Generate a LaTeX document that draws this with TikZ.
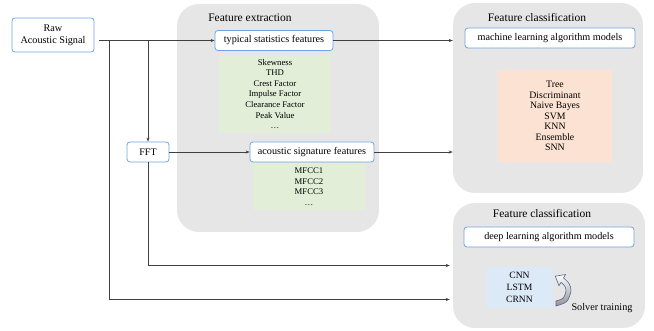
\documentclass[tikz,border=0pt]{standalone}
\usepackage{fontspec}
\setmainfont{Liberation Serif}
\usetikzlibrary{arrows.meta,calc}
\definecolor{panel}{HTML}{E6E6E6}
\definecolor{boxblue}{HTML}{6FA3E0}
\definecolor{greenf}{HTML}{E2EED8}
\definecolor{orangef}{HTML}{FBE2D2}
\definecolor{bluef}{HTML}{DCE9F6}
\definecolor{lineg}{HTML}{404040}
\definecolor{curvb}{HTML}{53699A}
\begin{document}
\begin{tikzpicture}[x=1pt,y=-1pt,
  panelbox/.style={fill=panel, rounded corners=22pt, draw=none, inner sep=0pt},
  bluebox/.style={draw=boxblue, line width=0.8pt, rounded corners=3pt, fill=white, font=\fontsize{10.2}{12}\selectfont, inner sep=0pt},
  listbox/.style={draw=none, inner sep=0pt, align=center, font=\fontsize{8.7}{10.6}\selectfont},
  titletext/.style={font=\fontsize{11.5}{13}\selectfont, inner sep=0pt},
  conn/.style={draw=lineg, line width=0.8pt},
  arr/.style={conn, -{Stealth[length=4pt,width=3pt]}}]
\useasboundingbox (0,0) rectangle (654,331);
% panels
\node[panelbox, minimum width=202pt, minimum height=228pt] (fe) at (278,118) {};
\node[panelbox, minimum width=190pt, minimum height=190pt] (fc1) at (548,98) {};
\node[panelbox, minimum width=192pt, minimum height=125pt] (fc2) at (549,265.5) {};
% titles
\node[titletext] (fet) at (250,18) {Feature extraction};
\node[titletext] (fc1t) at (537,18) {Feature classification};
\node[titletext] (fc2t) at (542,214) {Feature classification};
% list boxes
\node[listbox, fill=greenf, minimum width=112pt, minimum height=78pt] (g1) at (275,94)
  {Skewness\\THD\\Crest Factor\\Impulse Factor\\Clearance Factor\\Peak Value\\\dots};
\node[listbox, fill=greenf, minimum width=112pt, minimum height=47pt] (g2) at (309,186.5)
  {MFCC1\\MFCC2\\MFCC3\\\dots};
\node[listbox, font=\fontsize{9.8}{10.5}\selectfont, fill=orangef, minimum width=114pt, minimum height=92pt] (o1) at (555,116)
  {Tree\\Discriminant\\Naive Bayes\\SVM\\KNN\\Ensemble\\SNN};
\node[listbox, font=\fontsize{9.6}{11.7}\selectfont, fill=bluef, minimum width=67pt, minimum height=41pt] (b1) at (519.5,287.5)
  {CNN\\LSTM\\CRNN};
% blue boxes
\node[bluebox, align=center, minimum width=82pt, minimum height=34pt] (raw) at (53,35) {Raw\\Acoustic Signal};
\node[bluebox, minimum width=118pt, minimum height=20pt] (typ) at (274,40.5) {typical statistics features};
\node[bluebox, minimum width=124pt, minimum height=20pt] (acs) at (312,152) {acoustic signature features};
\node[bluebox, font=\fontsize{10}{12}\selectfont, minimum width=42pt, minimum height=20pt] (fft) at (148,152) {FFT};
\node[bluebox, minimum width=170pt, minimum height=20pt] (ml) at (550,38) {machine learning algorithm models};
\node[bluebox, minimum width=170pt, minimum height=20pt] (dl) at (549,237) {deep learning algorithm models};
% connectors
\coordinate (j1) at (109,40.5);
\coordinate (j2) at (148,40.5);
\draw[arr] ([xshift=5pt]raw.east |- typ.west) -- (typ.west);
\draw[arr] (j2) -- (fft.north);
\draw[arr] (j1) |- ($(fc2.west)+(-3,34)$);
\draw[arr] (fft.south) |- ($(fc2.west)+(-3,0)$);
\draw[arr] (fft.east) -- (acs.west);
\draw[arr] (typ.east) -- (typ.east -| fc1.west);
\draw[arr] (acs.east) -- (acs.east -| fc1.west);
% curved hollow arrow
\path[draw=curvb, line width=0.6pt, top color=white, bottom color=gray!85, line join=round]
  (556,301) -- (556,306)
  -- plot[smooth] coordinates {(556,306) (566.6,301.6) (571,291) (569,283.5) (563.5,278)}
  -- (565.5,274.5) -- (555.3,276.2) -- (559,285.8) -- (561,282.3)
  -- plot[smooth] coordinates {(561,282.3) (564.7,286) (566,291) (563.1,298.1) (556,301)}
  -- cycle;
\node[font=\fontsize{10.2}{12}\selectfont, inner sep=0pt] (solver) at (602,308) {Solver training};
\end{tikzpicture}
\end{document}
